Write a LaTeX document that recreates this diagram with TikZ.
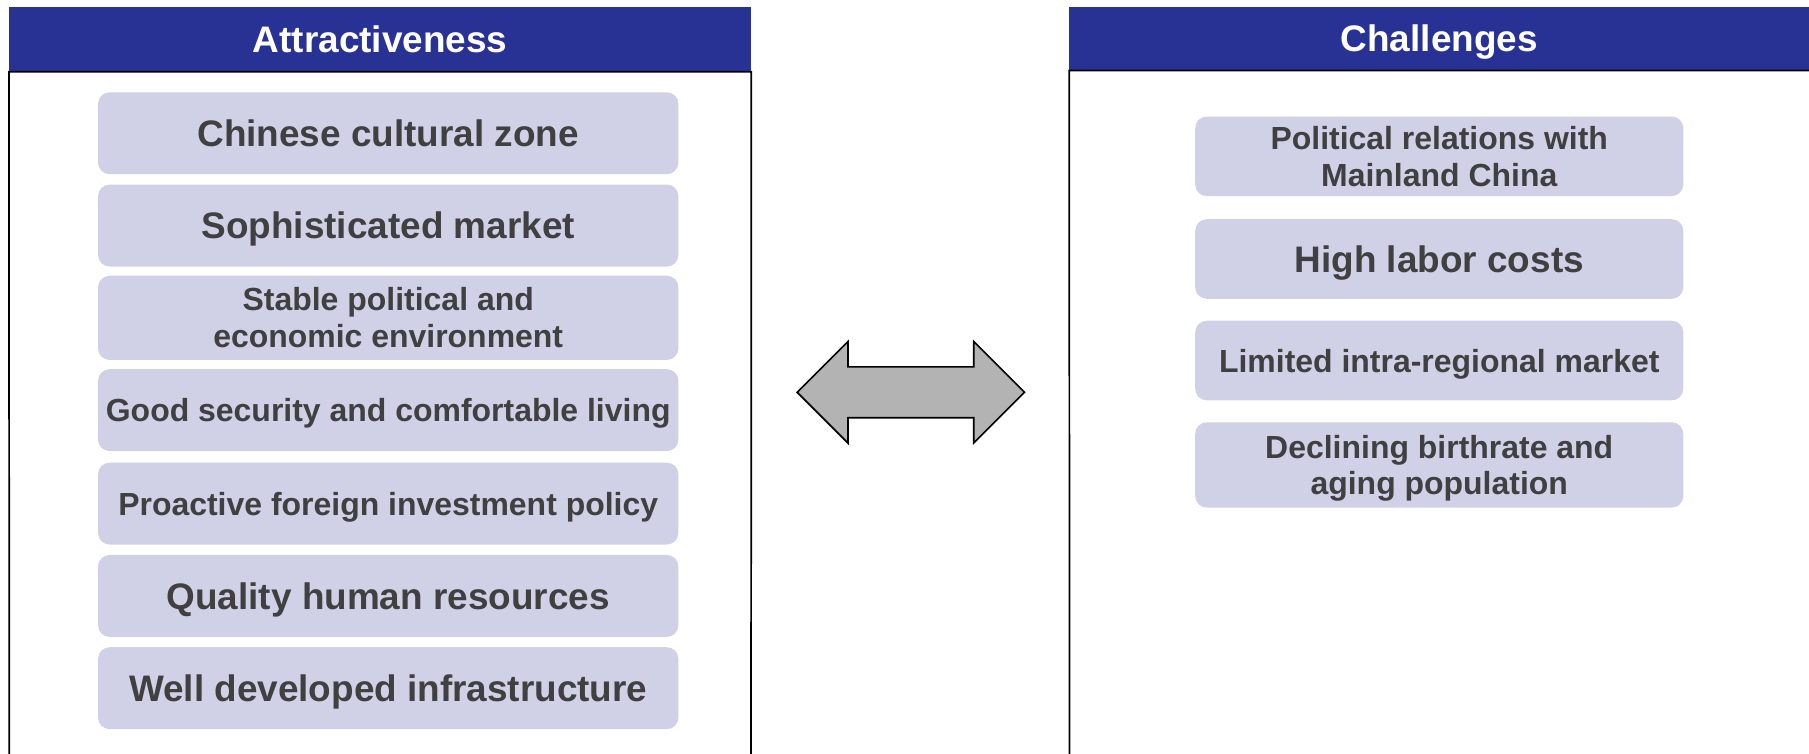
\documentclass[tikz,border=0pt]{standalone}
\usepackage{fontspec}
\setmainfont{Liberation Sans}
\definecolor{hdrblue}{RGB}{40,50,148}
\definecolor{boxfill}{RGB}{208,208,230}
\definecolor{txtgray}{RGB}{64,64,64}
\definecolor{arrowgray}{RGB}{179,179,179}
\tikzset{
 hdr/.style={fill=hdrblue, text=white, font=\bfseries\fontsize{32}{37}\selectfont, inner sep=0pt, text height=23pt, text depth=-2pt},
 item/.style={fill=boxfill, rounded corners=10pt, text=txtgray, font=\bfseries\fontsize{32}{37}\selectfont, align=center, inner sep=0pt, text height=23pt, text depth=-2pt},
 itemsm/.style={item, font=\bfseries\fontsize{27.7}{32}\selectfont, text height=20pt, text depth=-2pt},
 itemtwo/.style={fill=boxfill, rounded corners=10pt, text=txtgray, font=\bfseries\fontsize{27.7}{32}\selectfont, align=center, inner sep=0pt, text depth=-4pt},
 lbox/.style={minimum width=503pt, minimum height=71pt},
 rbox/.style={minimum width=423pt, minimum height=69pt},
 frame/.style={draw=black, line width=1.5pt},
 dblarrow/.style={draw=black, line width=1.5pt, fill=arrowgray, line join=miter}
}
\begin{document}
\begin{tikzpicture}[x=1pt,y=-1pt]
\useasboundingbox (0,0) rectangle (1568,653);
% headers
\node[hdr, minimum width=643pt, minimum height=56pt] (hA) at (329.5,34) {Attractiveness};
\node[hdr, minimum width=641pt, minimum height=55pt] (hC) at (1247.5,33.5) {Challenges};
% frames
\coordinate (aBL) at (8,660);
\coordinate (aBR) at (651,660);
\coordinate (cBL) at (927,660);
\draw[frame] (aBL) -- (hA.south west) -- (hA.south east) -- (aBR);
\draw[frame] (cBL) -- (hC.south west) -- (hC.south east);
% left items
\node[item, lbox] (a1) at (336.5,115.5) {Chinese cultural zone};
\node[item, lbox] (a2) at (336.5,195.5) {Sophisticated market};
\node[itemtwo, lbox, minimum height=73pt] (a3) at (336.5,275.5) {Stable political and\\economic environment};
\node[itemsm, lbox] (a4) at (336.5,355.5) {Good security and comfortable living};
\node[itemsm, lbox] (a5) at (336.5,436.5) {Proactive foreign investment policy};
\node[item, lbox] (a6) at (336.5,516.5) {Quality human resources};
\node[item, lbox] (a7) at (336.5,596.5) {Well developed infrastructure};
% right items
\node[itemtwo, rbox] (c1) at (1247.5,135.5) {Political relations with\\Mainland China};
\node[item, rbox] (c2) at (1247.5,224.5) {High labor costs};
\node[itemsm, rbox] (c3) at (1247.5,312.5) {Limited intra-regional market};
\node[itemtwo, rbox, minimum height=74pt] (c4) at (1247.5,403) {Declining birthrate and\\aging population};
% double arrow
\draw[dblarrow] (691,340) -- (735,296) -- (735,318) -- (844,318) -- (844,296) -- (888,340)
  -- (844,384) -- (844,362) -- (735,362) -- (735,384) -- cycle;
\end{tikzpicture}
\end{document}
